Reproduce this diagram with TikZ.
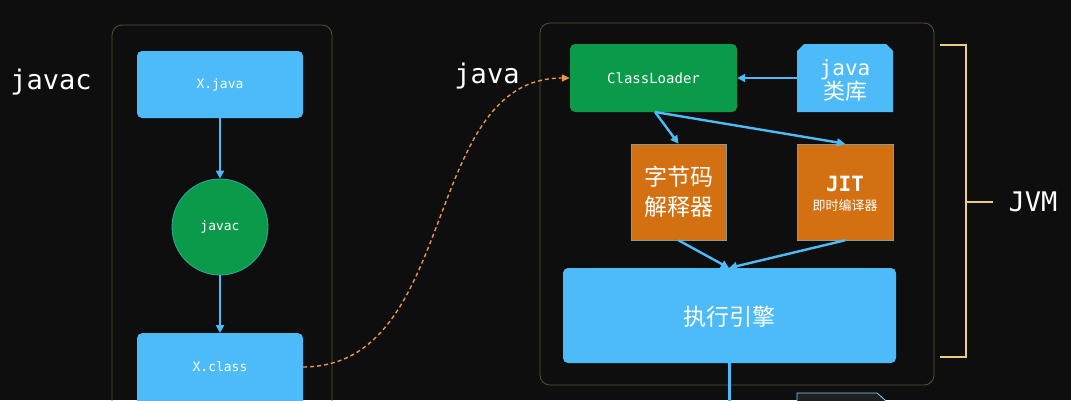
\documentclass[tikz,border=0pt]{standalone}
\usepackage{fontspec}
\setmonofont{DejaVu Sans Mono}
\newfontfamily\cjk{Noto Sans CJK SC}
\usetikzlibrary{arrows.meta,shapes.misc}
\definecolor{bg}{HTML}{0E0E0E}
\definecolor{lblue}{HTML}{4DBBF7}
\definecolor{jgreen}{HTML}{0A9A4A}
\definecolor{jorange}{HTML}{D27012}
\definecolor{frame}{HTML}{5A5234}
\definecolor{dashor}{HTML}{E8964C}
\definecolor{brk}{HTML}{E6CF82}
\tikzset{
  box/.style={draw=none, rounded corners=5pt, text=white, inner sep=0pt},
  bluebox/.style={box, fill=lblue},
  greenbox/.style={box, fill=jgreen},
  orangebox/.style={draw=lblue!60!jorange, line width=0.6pt, fill=jorange, text=white, inner sep=0pt},
  conn/.style={draw=lblue, line width=2.4pt, -{Triangle[length=8pt,width=8pt]}},
  container/.style={draw=frame, line width=0.8pt, rounded corners=10pt},
  biglabel/.style={text=white, font=\ttfamily\fontsize{27}{30}\selectfont},
}
\begin{document}
\begin{tikzpicture}[x=1pt,y=-1pt]
\fill[bg] (0,0) rectangle (1071,400);
\useasboundingbox (0,0) rectangle (1071,400);
\begin{scope}
\clip (0,0) rectangle (1071,400);
% containers
\draw[container] (112,25) rectangle (332,420);
\draw[container] (540,23) rectangle (934,385);
% left column
\node[bluebox, minimum width=166pt, minimum height=67pt, font=\ttfamily\fontsize{13}{15}\selectfont] (xjava) at (220,84.5) {X.java};
\node[circle, fill=jgreen, draw=lblue!50!jgreen, line width=0.8pt, minimum size=96pt, inner sep=0pt, text=white, font=\ttfamily\fontsize{13}{15}\selectfont] (javacc) at (220,227) {javac};
\node[bluebox, minimum width=166pt, minimum height=80pt, anchor=north] (xclass) at (220,333) {};
\node[text=white, font=\ttfamily\fontsize{13}{15}\selectfont] (xclasst) at (220,367) {X.class};
\draw[conn] (xjava.south) -- (javacc.north);
\draw[conn] (javacc.south) -- (xclass.north);
% labels
\node[biglabel] (ljavac) at (51,82) {javac};
\node[biglabel] (ljava) at (487,76) {java};
\node[biglabel] (ljvm) at (1033,202) {JVM};
% JVM
\node[greenbox, minimum width=167pt, minimum height=68pt, font=\ttfamily\fontsize{14}{16}\selectfont] (cl) at (653.5,78) {ClassLoader};
\fill[lblue] (797,112) -- (797,51) -- (804,44) -- (886,44) -- (893,51) -- (893,112) -- cycle;
\node[inner sep=0pt, minimum width=96pt, minimum height=68pt] (lib) at (845,78) {};
\node[text=white, align=center, inner sep=0pt, font=\cjk\fontsize{22}{25}\selectfont] (libt) at (845,80) {{\ttfamily\fontsize{21}{24}\selectfont java}\\[-1pt]类库};
\node[orangebox, minimum width=95pt, minimum height=96pt] (interp) at (678.5,192) {};
\node[text=white, align=center, inner sep=0pt, font=\cjk\fontsize{23}{30}\selectfont] (interpt) at (678.5,192) {字节码\\解释器};
\node[orangebox, minimum width=96pt, minimum height=96pt] (jit) at (845,192) {};
\node[text=white, align=center, inner sep=0pt, font=\cjk\fontsize{13}{15}\selectfont] (jitt) at (845,194) {{\ttfamily\bfseries\fontsize{21}{22}\selectfont JIT}\\[4pt]即时编译器};
\node[bluebox, minimum width=333pt, minimum height=95pt] (exec) at (729.5,315.5) {};
\node[text=white, inner sep=0pt, font=\cjk\fontsize{23}{25}\selectfont] (exect) at (729.5,317) {执行引擎};
\fill[gray!25!black, draw=lblue!70, line width=0.8pt] (797,420) -- (797,393) -- (877,393) -- (885,400) -- (885,420) -- cycle;
\node[inner sep=0pt, minimum width=88pt, minimum height=20pt, anchor=north] (next) at (841,393) {};
\coordinate (cls) at (655,112);
\draw[conn] (lib.west) -- (cl.east);
\draw[conn] (cls) -- (interp.north);
\draw[conn] (cls) -- (jit.north);
\coordinate (ex) at (729,268);
\draw[conn] (interp.south) -- (ex);
\draw[conn] (jit.south) -- (ex);
\coordinate (exb) at (729.5,410);
\draw[lblue, line width=2.4pt] (exec.south) -- (exb);
% dashed curve
\draw[dashor, line width=1.4pt, dash pattern=on 4pt off 3pt, -{Triangle[length=8pt,width=7pt]}] (xclass.east |- xclasst) .. controls (460,366) and (420,78) .. (cl.west);
% bracket
\coordinate (bt) at (940,45);
\coordinate (bb) at (940,357);
\draw[brk, line width=1.3pt] (bt) -- (966,45) -- (966,357) -- (bb);
\draw[brk, line width=1.3pt] (966,202) -- (993,202);
\end{scope}
\end{tikzpicture}
\end{document}
